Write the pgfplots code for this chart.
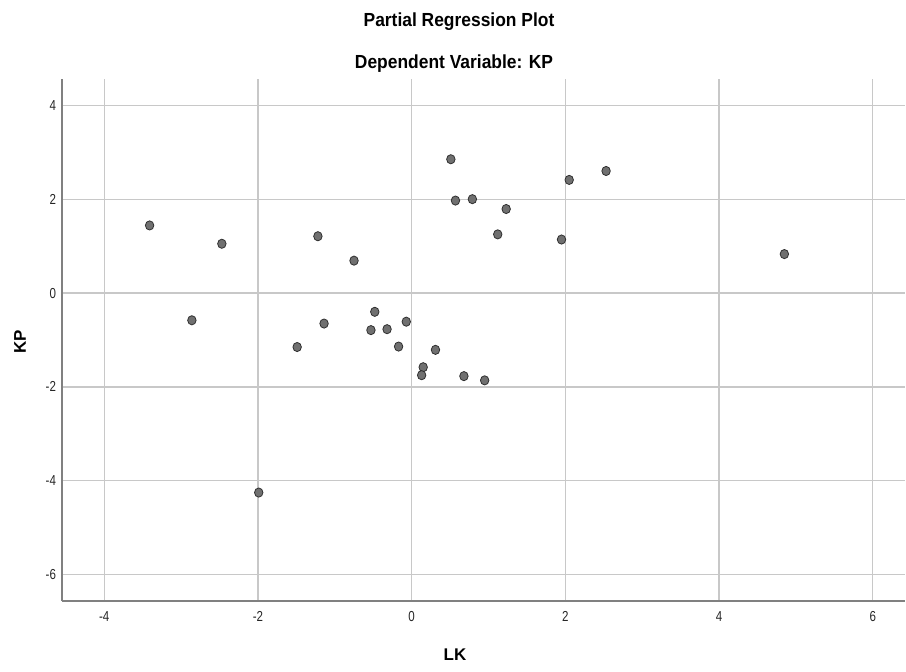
\documentclass[border=0pt]{standalone}
\usepackage{fontspec}
\setmainfont{Liberation Sans}
\newfontfamily\cond[FakeStretch=0.8]{Liberation Sans}
\newfontfamily\condtitle[FakeStretch=0.92]{Liberation Sans}
\usepackage{pgfplots}
\pgfplotsset{compat=1.18}
\definecolor{gridc}{HTML}{C8C8C8}
\definecolor{axc}{HTML}{808080}
\definecolor{dotfill}{HTML}{707070}
\definecolor{dotedge}{HTML}{303030}
\begin{document}
\begin{tikzpicture}
\begin{axis}[width=843bp, height=522bp, scale only axis,
  xmin=-4.55, xmax=6.42, ymin=-6.56, ymax=4.56,
  axis x line*=bottom, axis y line*=left,
  axis line style={axc, line width=1.4bp, -},
  xtick={-4,-2,0,2,4,6}, xticklabels={-4,-2,0,2,4,6},
  ytick={-6,-4,-2,0,2,4}, yticklabels={-6,-4,-2,0,2,4},
  major tick length=0pt,
  grid=major, grid style={gridc, line width=1.3bp},
  tick label style={font=\cond\fontsize{14.5}{14.5}\selectfont, text=black!85},
  xticklabel style={yshift=-7bp},
  yticklabel style={xshift=-2.5bp},
  clip=false]
\addplot[only marks, mark=*, mark size=4.6bp,
  mark options={xscale=0.92, fill=dotfill, draw=dotedge, line width=0.8bp}]
  coordinates {
  (-3.41,1.44) (-2.47,1.05) (-2.86,-0.58) (-1.99,-4.25) (-1.22,1.21)
  (-0.75,0.69) (-0.48,-0.40) (-1.14,-0.65) (-0.53,-0.79) (-1.49,-1.15)
  (-0.32,-0.77) (-0.07,-0.61) (-0.17,-1.14) (0.31,-1.21) (0.15,-1.58)
  (0.13,-1.75) (0.68,-1.77) (0.95,-1.86) (0.51,2.85) (0.57,1.97)
  (0.79,2.00) (1.23,1.79) (1.12,1.25) (2.05,2.41) (2.53,2.60)
  (1.95,1.14) (4.85,0.83)
  };
\coordinate (sw) at (rel axis cs:0,0);
\end{axis}
\begin{scope}[shift={(sw)}, x=1bp, y=1bp]
\path[use as bounding box] (-62,-71) rectangle (844,601);
\node[anchor=base, inner sep=0pt, font=\condtitle\bfseries\fontsize{19}{19}\selectfont] at (459-62,645-71) {Partial Regression Plot};
\node[anchor=base, inner sep=0pt, font=\condtitle\bfseries\fontsize{19}{19}\selectfont] at (454-62,603.5-71) {Dependent Variable: KP};
\node[rotate=90, inner sep=0pt, font=\bfseries\fontsize{17}{17}\selectfont] at (20-62,330-71) {KP};
\node[inner sep=0pt, font=\bfseries\fontsize{17}{17}\selectfont] at (455-62,17-71) {LK};
\end{scope}
\end{tikzpicture}
\end{document}
